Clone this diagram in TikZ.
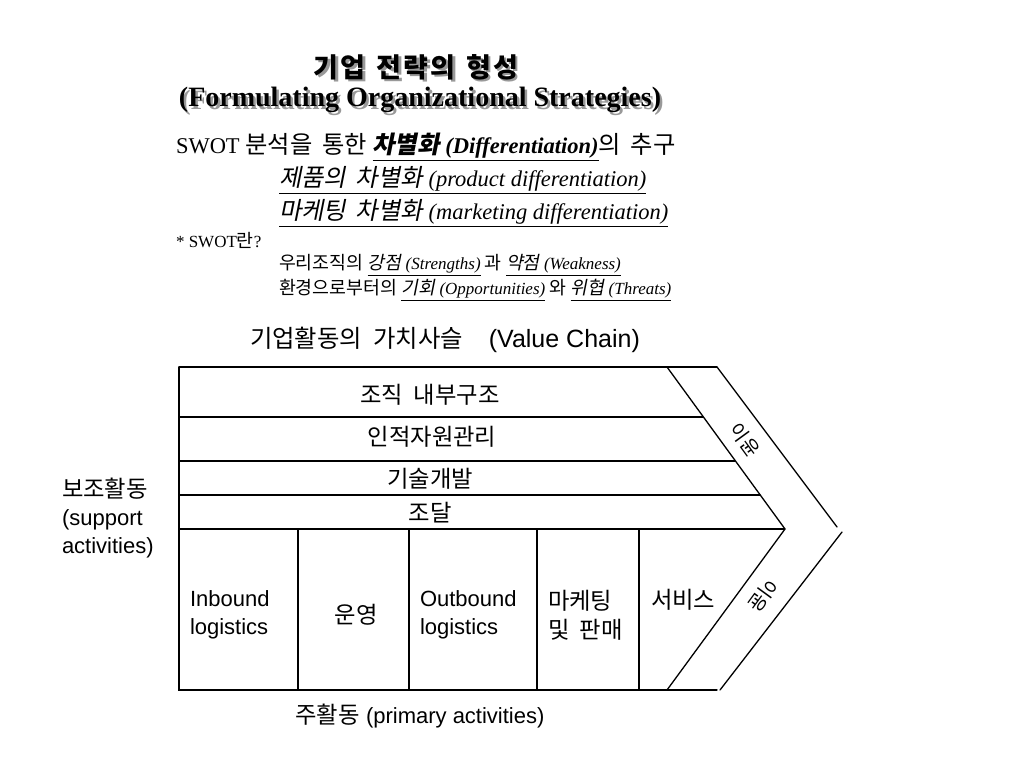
\documentclass[tikz,border=0pt]{standalone}
\usepackage{fontspec}
\setmainfont{Liberation Serif}
\newfontfamily\arial{Liberation Sans}
\newfontfamily\krt[LetterSpace=8,WordSpace=1.3]{Noto Sans CJK KR}
\newfontfamily\krs[Scale=1.08,WordSpace=1.8]{Noto Sans CJK KR}
\newfontfamily\krsit[Scale=1.08,WordSpace=1.8,FakeSlant=0.2]{Noto Sans CJK KR}
\newfontfamily\krv[Scale=1.06,WordSpace=2.0]{Noto Sans CJK KR}
\tikzset{
  frame/.style={line width=1.3pt, line cap=round},
  thickline/.style={line width=2.6pt},
  txt/.style={inner sep=0pt, outer sep=0pt},
  vclabel/.style={txt, font=\krv\fontsize{22}{27}\selectfont},
  pri/.style={txt, anchor=west, align=left, font=\arial\fontsize{22}{28}\selectfont},
  shadowtxt/.style={txt, text=black!40},
}
\begin{document}
\begin{tikzpicture}[x=1pt,y=-1pt]
\useasboundingbox (0,0) rectangle (1024,768);
% titles with shadow
\node[shadowtxt, font=\krt\bfseries\fontsize{27}{30}\selectfont] (t1s) at (418.5,69.5) {기업 전략의 형성};
\node[txt, font=\krt\bfseries\fontsize{27}{30}\selectfont] (t1) at (416,67) {기업 전략의 형성};
\node[shadowtxt, font=\bfseries\fontsize{28}{32}\selectfont] (t2s) at (422.5,102.5) {(Formulating Organizational Strategies)};
\node[txt, font=\bfseries\fontsize{28}{32}\selectfont] (t2) at (420,100) {(Formulating Organizational Strategies)};
% SWOT lines
\node[txt, anchor=west, font=\fontsize{22.5}{26}\selectfont] (l1) at (176,147)
  {SWOT {\krs 분석을 통한} \underline{\bfseries\itshape{\krsit 차별화} (Differentiation)}{\krs 의 추구}};
\node[txt, anchor=west, font=\fontsize{22.5}{26}\selectfont] (l2) at (279,180)
  {\underline{{\krsit 제품의 차별화} \itshape(product differentiation)}};
\node[txt, anchor=west, font=\fontsize{22.5}{26}\selectfont] (l3) at (279,213)
  {\underline{{\krsit 마케팅 차별화} \itshape(marketing differentiation)}};
\node[txt, anchor=west, font=\fontsize{17}{20}\selectfont] (l4) at (176,240) {* SWOT{\krs 란}?};
\node[txt, anchor=west, font=\fontsize{17}{20}\selectfont] (l5) at (279,265)
  {{\krs 우리조직의} \underline{{\krsit 강점} \itshape(Strengths)} {\krs 과} \underline{{\krsit 약점} \itshape(Weakness)}};
\node[txt, anchor=west, font=\fontsize{17}{20}\selectfont] (l6) at (279,290)
  {{\krs 환경으로부터의} \underline{{\krsit 기회} \itshape(Opportunities)} {\krs 와} \underline{{\krsit 위협} \itshape(Threats)}};
% value chain title
\node[txt, font=\arial\fontsize{25}{28}\selectfont] (vct) at (445,340) {{\krv\fontsize{23}{28}\selectfont 기업활동의 가치사슬}\hspace{26pt}(Value Chain)};
% frame
\draw[frame] (179,367) -- (717,367);
\draw[frame] (179,367) -- (179,690) -- (717,690);
\draw[frame] (667,367) -- (785,529) -- (667,690);
\draw[frame] (717,367) -- (837,527);
\draw[frame] (842,532) -- (720,690);
\draw[frame] (179,417) -- (703,417);
\draw[frame] (179,461) -- (735,461);
\draw[frame] (179,495) -- (760,495);
\draw[thickline] (179,529) -- (785,529);
\foreach \xx in {298,409,537,639} \draw[frame] (\xx,529) -- (\xx,690);
% support activities
\node[vclabel] (s1) at (430,395) {조직 내부구조};
\node[vclabel] (s2) at (432,437) {인적자원관리};
\node[vclabel] (s3) at (430,479) {기술개발};
\node[vclabel] (s4) at (430,513) {조달};
% primary activities
\node[pri] (p1) at (190,615) {Inbound\\logistics};
\node[vclabel] (p2) at (356,615) {운영};
\node[pri] (p3) at (420,615) {Outbound\\logistics};
\node[pri, font=\krv\fontsize{22}{29}\selectfont] (p4) at (548,615) {마케팅\\및 판매};
\node[vclabel, anchor=west] (p5) at (651,600) {서비스};
% margin
\node[txt, font=\krv\fontsize{18}{22}\selectfont, rotate=-54] (m1) at (745,440) {이윤};
\node[txt, font=\krv\fontsize{18}{22}\selectfont, rotate=-126] (m2) at (763,596) {이윤};
% side labels
\node[pri] (sup) at (62,518) {{\krv 보조활동}\\(support\\activities)};
\node[txt, font=\arial\fontsize{22}{26}\selectfont] (prim) at (420,716) {{\krv 주활동} (primary activities)};
\end{tikzpicture}
\end{document}
